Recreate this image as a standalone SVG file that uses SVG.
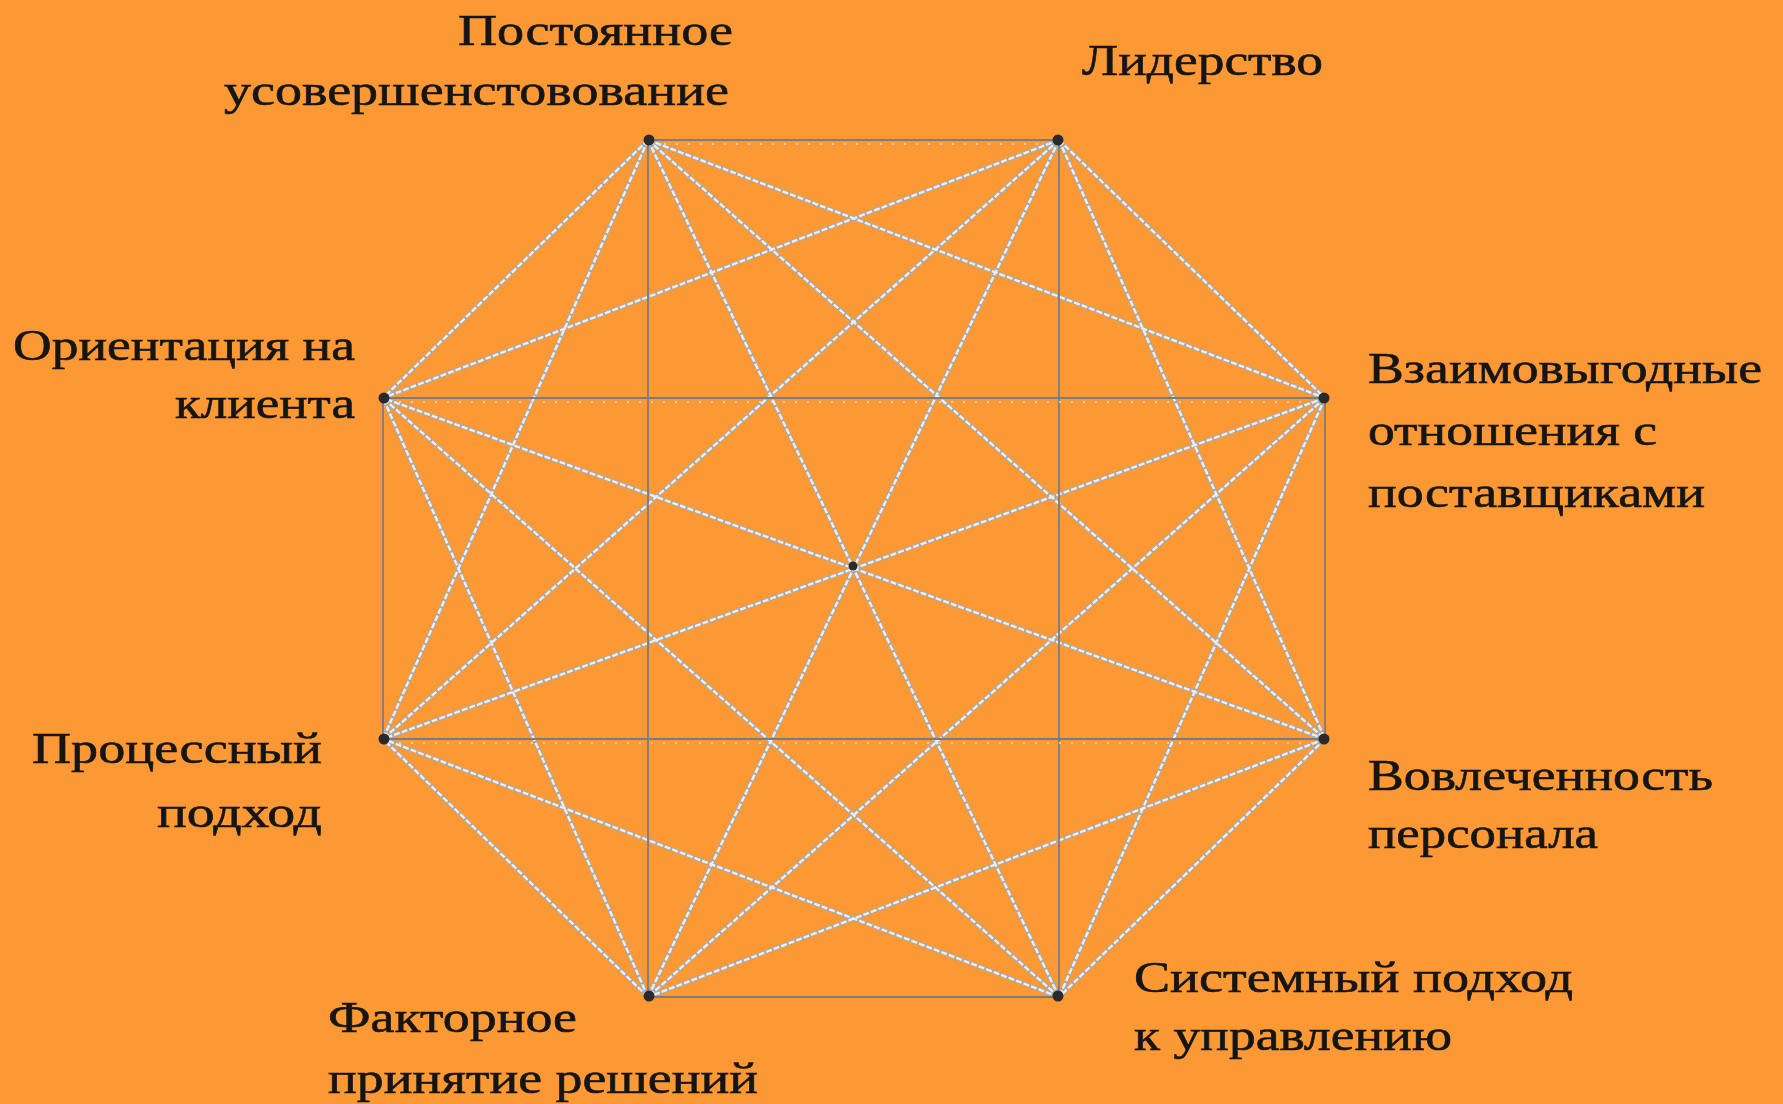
<svg xmlns="http://www.w3.org/2000/svg" width="1783" height="1104" viewBox="0 0 1783 1104">
<style>
.bg{fill:#fd9934}
.lbl{font-family:"Liberation Serif","DejaVu Serif","Times New Roman",serif;font-size:44px;fill:#151515;stroke:#151515;stroke-width:0.6px;}
.dg1{stroke:#a8a8a8;stroke-width:4.2;fill:none;stroke-linecap:round}
.dg2{stroke:#eeeeee;stroke-width:2.4;fill:none;stroke-dasharray:6 2}
.ax{stroke:#7c7c7c;stroke-width:1.8;fill:none}
.ax2{stroke:#e2e2e2;stroke-width:1.6;fill:none;stroke-dasharray:2 10}
.dot{fill:#2a2a2a}
</style>
<rect class="bg" x="0" y="0" width="1783" height="1104"/>
<g id="connectors">
<g id="diagonals-under">
<line class="dg1" x1="648" y1="140" x2="1325" y2="398"/>
<line class="dg1" x1="648" y1="140" x2="1325" y2="739"/>
<line class="dg1" x1="648" y1="140" x2="1059" y2="997"/>
<line class="dg1" x1="648" y1="140" x2="383" y2="739"/>
<line class="dg1" x1="648" y1="140" x2="383" y2="398"/>
<line class="dg1" x1="1059" y1="140" x2="1325" y2="398"/>
<line class="dg1" x1="1059" y1="140" x2="1325" y2="739"/>
<line class="dg1" x1="1059" y1="140" x2="648" y2="997"/>
<line class="dg1" x1="1059" y1="140" x2="383" y2="739"/>
<line class="dg1" x1="1059" y1="140" x2="383" y2="398"/>
<line class="dg1" x1="1325" y1="398" x2="1059" y2="997"/>
<line class="dg1" x1="1325" y1="398" x2="648" y2="997"/>
<line class="dg1" x1="1325" y1="398" x2="383" y2="739"/>
<line class="dg1" x1="1325" y1="739" x2="1059" y2="997"/>
<line class="dg1" x1="1325" y1="739" x2="648" y2="997"/>
<line class="dg1" x1="1325" y1="739" x2="383" y2="398"/>
<line class="dg1" x1="1059" y1="997" x2="383" y2="739"/>
<line class="dg1" x1="1059" y1="997" x2="383" y2="398"/>
<line class="dg1" x1="648" y1="997" x2="383" y2="739"/>
<line class="dg1" x1="648" y1="997" x2="383" y2="398"/>
</g>
<g id="diagonals-over">
<line class="dg2" x1="648" y1="140" x2="1325" y2="398"/>
<line class="dg2" x1="648" y1="140" x2="1325" y2="739"/>
<line class="dg2" x1="648" y1="140" x2="1059" y2="997"/>
<line class="dg2" x1="648" y1="140" x2="383" y2="739"/>
<line class="dg2" x1="648" y1="140" x2="383" y2="398"/>
<line class="dg2" x1="1059" y1="140" x2="1325" y2="398"/>
<line class="dg2" x1="1059" y1="140" x2="1325" y2="739"/>
<line class="dg2" x1="1059" y1="140" x2="648" y2="997"/>
<line class="dg2" x1="1059" y1="140" x2="383" y2="739"/>
<line class="dg2" x1="1059" y1="140" x2="383" y2="398"/>
<line class="dg2" x1="1325" y1="398" x2="1059" y2="997"/>
<line class="dg2" x1="1325" y1="398" x2="648" y2="997"/>
<line class="dg2" x1="1325" y1="398" x2="383" y2="739"/>
<line class="dg2" x1="1325" y1="739" x2="1059" y2="997"/>
<line class="dg2" x1="1325" y1="739" x2="648" y2="997"/>
<line class="dg2" x1="1325" y1="739" x2="383" y2="398"/>
<line class="dg2" x1="1059" y1="997" x2="383" y2="739"/>
<line class="dg2" x1="1059" y1="997" x2="383" y2="398"/>
<line class="dg2" x1="648" y1="997" x2="383" y2="739"/>
<line class="dg2" x1="648" y1="997" x2="383" y2="398"/>
</g>
<g id="axis-lines">
<line class="ax" x1="648" y1="140" x2="1059" y2="140"/>
<line class="ax" x1="648" y1="997" x2="1059" y2="997"/>
<line class="ax" x1="383" y1="398" x2="1325" y2="398"/>
<line class="ax" x1="383" y1="739" x2="1325" y2="739"/>
<line class="ax" x1="648" y1="140" x2="648" y2="997"/>
<line class="ax" x1="1059" y1="140" x2="1059" y2="997"/>
<line class="ax" x1="383" y1="398" x2="383" y2="739"/>
<line class="ax" x1="1325" y1="398" x2="1325" y2="739"/>
<line class="ax2" x1="652" y1="144" x2="1055" y2="144"/>
<line class="ax2" x1="387" y1="402" x2="1321" y2="402"/>
<line class="ax2" x1="387" y1="743" x2="1321" y2="743"/>
</g>
<circle class="dot" cx="853" cy="566" r="4.5"/>
</g>
<g id="node-postoyannoe">
<circle class="dot" cx="649" cy="140" r="5.5"/>
<text class="lbl" x="458" y="45" textLength="275" lengthAdjust="spacingAndGlyphs">Постоянное</text>
<text class="lbl" x="224" y="105" textLength="505" lengthAdjust="spacingAndGlyphs">усовершенстовование</text>
</g>
<g id="node-liderstvo">
<circle class="dot" cx="1058" cy="140" r="5.5"/>
<text class="lbl" x="1082" y="75" textLength="241" lengthAdjust="spacingAndGlyphs">Лидерство</text>
</g>
<g id="node-vzaimovygodnye">
<circle class="dot" cx="1324" cy="398" r="5.5"/>
<text class="lbl" x="1368" y="383" textLength="394" lengthAdjust="spacingAndGlyphs">Взаимовыгодные</text>
<text class="lbl" x="1368" y="445" textLength="289" lengthAdjust="spacingAndGlyphs">отношения с</text>
<text class="lbl" x="1368" y="507" textLength="337" lengthAdjust="spacingAndGlyphs">поставщиками</text>
</g>
<g id="node-vovlechennost">
<circle class="dot" cx="1324" cy="739" r="5.5"/>
<text class="lbl" x="1368" y="790" textLength="345" lengthAdjust="spacingAndGlyphs">Вовлеченность</text>
<text class="lbl" x="1368" y="848" textLength="230" lengthAdjust="spacingAndGlyphs">персонала</text>
</g>
<g id="node-sistemny">
<circle class="dot" cx="1058" cy="996" r="5.5"/>
<text class="lbl" x="1134" y="992" textLength="439" lengthAdjust="spacingAndGlyphs">Системный подход</text>
<text class="lbl" x="1134" y="1050" textLength="318" lengthAdjust="spacingAndGlyphs">к управлению</text>
</g>
<g id="node-faktornoe">
<circle class="dot" cx="649" cy="996" r="5.5"/>
<text class="lbl" x="328" y="1032" textLength="249" lengthAdjust="spacingAndGlyphs">Факторное</text>
<text class="lbl" x="328" y="1093" textLength="430" lengthAdjust="spacingAndGlyphs">принятие решений</text>
</g>
<g id="node-processny">
<circle class="dot" cx="384" cy="739" r="5.5"/>
<text class="lbl" x="32" y="763" textLength="290" lengthAdjust="spacingAndGlyphs">Процессный</text>
<text class="lbl" x="157" y="827" textLength="165" lengthAdjust="spacingAndGlyphs">подход</text>
</g>
<g id="node-orientaciya">
<circle class="dot" cx="384" cy="398" r="5.5"/>
<text class="lbl" x="13" y="360" textLength="342" lengthAdjust="spacingAndGlyphs">Ориентация на</text>
<text class="lbl" x="175" y="418" textLength="180" lengthAdjust="spacingAndGlyphs">клиента</text>
</g>
</svg>
